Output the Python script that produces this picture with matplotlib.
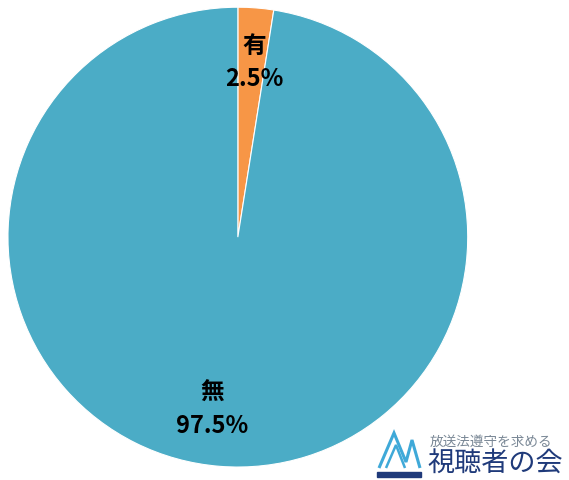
import matplotlib.pyplot as plt
from matplotlib.patches import Polygon, Rectangle

plt.rcParams['font.family'] = ['Noto Sans CJK JP', 'DejaVu Sans']

labels = ["有", "無"]
values = [2.5, 97.5]
colors = ["#F79646", "#4BACC6"]

fig = plt.figure(figsize=(5.69, 4.8), dpi=100)
ax = fig.add_axes([0.418 - 0.404, 0.506 - 0.479, 0.808, 0.958])

wedges, texts = ax.pie(values, colors=colors, startangle=90, counterclock=False,
                       wedgeprops=dict(linewidth=0.8, edgecolor="white"))
ax.set_xlim(-1, 1)
ax.set_ylim(-1, 1)
ax.set_aspect("auto")
ax.axis("off")

# labels
ax.text(0.07, 0.76, "%s\n%.1f%%" % (labels[0], values[0]), ha="center", va="center",
        fontsize=17, fontweight="bold", linespacing=1.5)
ax.text(-0.113, -0.75, "%s\n%.1f%%" % (labels[1], values[1]), ha="center", va="center",
        fontsize=17, fontweight="bold", linespacing=1.5)

# logo
lc = "#3FA9D8"
fig.patches.append(Polygon([[379/569, 1-468/480], [394/569, 1-433/480], [406/569, 1-462/480],
                            [412/569, 1-440/480], [420/569, 1-468/480]],
                           closed=False, fill=False, edgecolor=lc, linewidth=2.2,
                           transform=fig.transFigure))
fig.patches.append(Polygon([[386/569, 1-468/480], [396/569, 1-445/480], [405/569, 1-468/480]],
                           closed=False, fill=False, edgecolor=lc, linewidth=1.8,
                           transform=fig.transFigure))
fig.patches.append(Rectangle((377/569, 1-477/480), 44/569, 5/480, color="#1F3A7A",
                             transform=fig.transFigure))
fig.text(430/569, 1-442/480, "放送法遵守を求める", fontsize=9.8, color="#7A8896",
         va="center", ha="left")
fig.text(427/569, 1-464/480, "視聴者の会", fontsize=19.5, color="#1F3A7A",
         va="center", ha="left")

fig.savefig("out.png", dpi=100)
